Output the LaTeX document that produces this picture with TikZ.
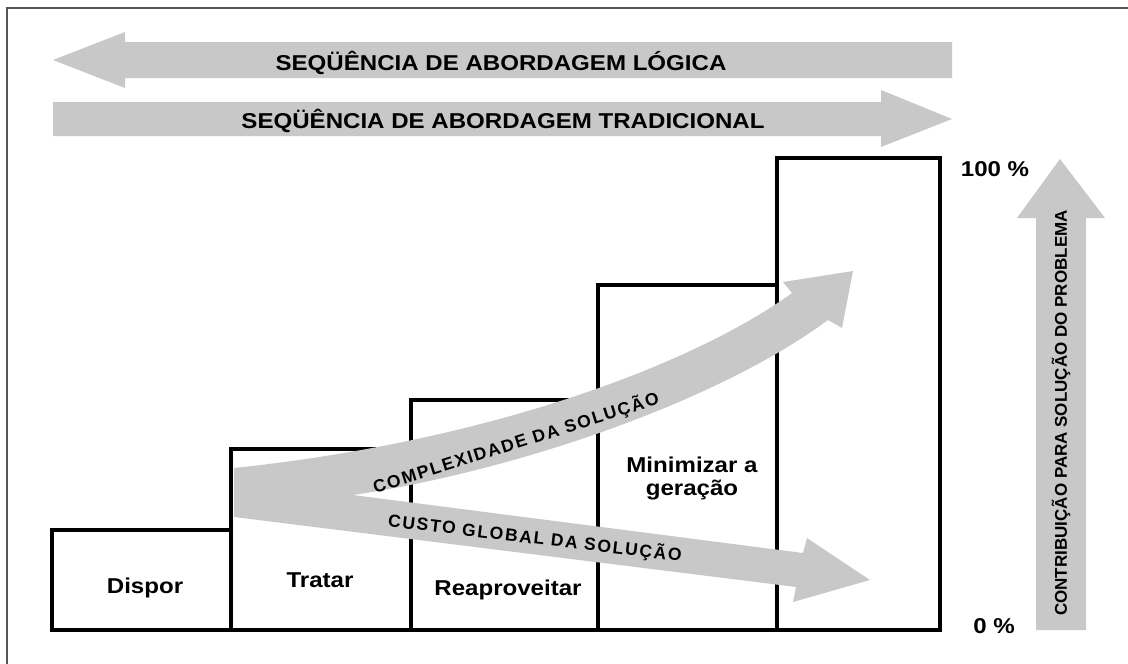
\documentclass[tikz,border=0pt]{standalone}
\usepackage{fontspec}
\setmainfont{Liberation Sans}
\newfontfamily\spacedfont[LetterSpace=10]{Liberation Sans}
\usepackage{graphicx}
\definecolor{agray}{RGB}{200,200,200}
\definecolor{framegray}{RGB}{85,85,85}
\newcommand{\wid}[1]{\scalebox{1.12}[1]{#1}}
\begin{document}
\begin{tikzpicture}[x=1pt,y=-1pt,
  boxline/.style={line width=4pt, draw=black, line join=miter},
  garrow/.style={fill=agray, draw=none},
  toplabel/.style={font=\fontsize{21.5}{24}\selectfont\bfseries, inner sep=0pt, anchor=base},
  boxlabel/.style={font=\fontsize{21.5}{24}\selectfont\bfseries, inner sep=0pt, anchor=base},
  curvlabel/.style={font=\spacedfont\fontsize{17.5}{20}\selectfont\bfseries, inner sep=0pt},
  vertlabel/.style={font=\fontsize{17}{20}\selectfont\bfseries, inner sep=0pt, rotate=90}]
\useasboundingbox (0,0) rectangle (1128,664);
% frame
\draw[line width=2pt, draw=framegray] (7,664) -- (7,8) -- (1128,8);
% boxes
\draw[boxline] (52,530) rectangle (231,630);
\draw[boxline] (231,449) rectangle (411,630);
\draw[boxline] (411,400) rectangle (598,630);
\draw[boxline] (598,285) rectangle (777,630);
\draw[boxline] (777,158) rectangle (940,630);
% horizontal arrows
\fill[garrow] (952,42) -- (125,42) -- (125,32) -- (53,60) -- (125,88) -- (125,78) -- (952,78) -- cycle;
\fill[garrow] (53,102) -- (881,102) -- (881,90) -- (952,119) -- (881,147) -- (881,136) -- (53,136) -- cycle;
% vertical arrow
\fill[garrow] (1036,630) -- (1086,630) -- (1086,218) -- (1105,218) -- (1060,159) -- (1017,218) -- (1036,218) -- cycle;
% split arrows
\fill[garrow] (234,468) .. controls (500,440) and (700,360) .. (792,293)
  -- (783,282) -- (853,271) -- (842,328) -- (828,320)
  .. controls (720,400) and (520,470) .. (353,495)
  -- (803,553) -- (807,538) -- (870,580) -- (793,602) -- (796,587)
  -- (234,517) -- cycle;
% texts
\node[toplabel] (logica) at (501,70) {\wid{SEQÜÊNCIA DE ABORDAGEM LÓGICA}};
\node[toplabel] (trad) at (503,128) {\wid{SEQÜÊNCIA DE ABORDAGEM TRADICIONAL}};
\node[boxlabel] (dispor) at (145,593) {\wid{Dispor}};
\node[boxlabel] (tratar) at (320,587) {\wid{Tratar}};
\node[boxlabel] (reap) at (508,595) {\wid{Reaproveitar}};
\node[boxlabel] (minA) at (692,472) {\wid{Minimizar a}};
\node[boxlabel] (minB) at (692,495) {\wid{geração}};
\node[boxlabel] (cem) at (995,176) {\wid{100 \%}};
\node[boxlabel] (zero) at (994,633) {\wid{0 \%}};
\node[curvlabel, rotate=17.5] (compl) at (516,443) {COMPLEXIDADE DA SOLUÇÃO};
\node[curvlabel, rotate=-6.8] (custo) at (535,538) {CUSTO GLOBAL DA SOLUÇÃO};
\node[vertlabel] (contrib) at (1061,413) {CONTRIBUIÇÃO PARA SOLUÇÃO DO PROBLEMA};
\end{tikzpicture}
\end{document}
